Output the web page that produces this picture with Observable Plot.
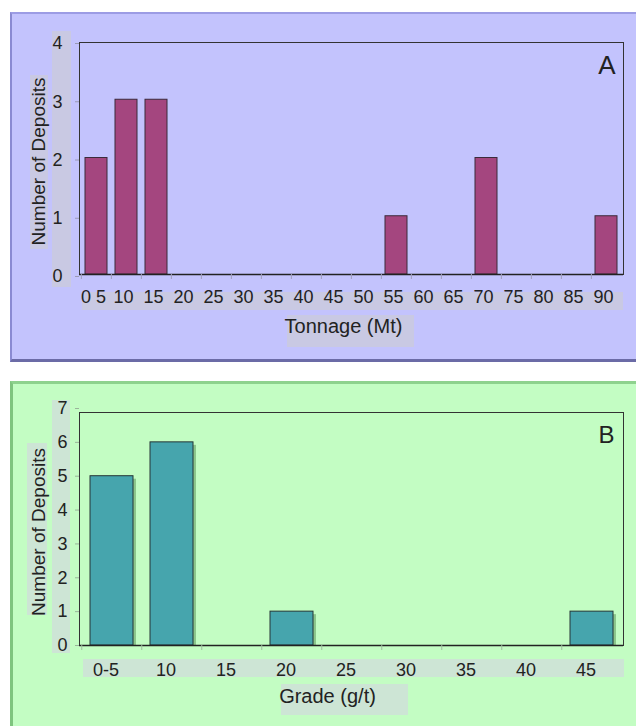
<!DOCTYPE html>
<html><head><meta charset="utf-8">
<script src="https://cdn.jsdelivr.net/npm/d3@7"></script>
<script src="https://cdn.jsdelivr.net/npm/@observablehq/plot@0.6"></script>
<style>
html,body{margin:0;padding:0;background:#fff;}
#page{position:relative;width:636px;height:726px;overflow:hidden;font-family:"Liberation Sans",Arial,sans-serif;}
.panel{position:absolute;box-sizing:border-box;}
#panelA{left:10px;top:12px;width:640px;height:350px;background:#c3c3fd;border-top:2px solid #9c9ce4;border-left:2px solid #8a8ad2;border-bottom:3px solid #6b6ba6;}
#panelB{left:10px;top:381px;width:640px;height:360px;background:#c3fdc3;border-top:3px solid #8ed28e;border-left:3px solid #7fc47f;}
.box{position:absolute;}
.boxA{background:#c9c9e3;}
.boxB{background:#cde5d5;}
</style></head>
<body><div id="page">
<div id="panelA" class="panel"></div>
<div id="panelB" class="panel"></div>
<div class="box boxA" style="left:52px;top:31px;width:19px;height:256px"></div>
<div class="box boxA" style="left:30px;top:75px;width:18px;height:174px"></div>
<div class="box boxA" style="left:82px;top:292px;width:541px;height:18px"></div>
<div class="box boxA" style="left:287px;top:315px;width:127px;height:32px"></div>
<div class="box boxB" style="left:52px;top:400px;width:18px;height:253px"></div>
<div class="box boxB" style="left:27px;top:443px;width:20px;height:172px"></div>
<div class="box boxB" style="left:83px;top:659px;width:541px;height:18px"></div>
<div class="box boxB" style="left:281px;top:684px;width:127px;height:31px"></div>
</div>
<script>
const tonnageLabels = ["0 5","10","15","20","25","30","35","40","45","50","55","60","65","70","75","80","85","90"];
const tonnageCounts = [2,3,3,0,0,0,0,0,0,0,1,0,0,2,0,0,0,1];
const gradeLabels = ["0-5","10","15","20","25","30","35","40","45"];
const gradeCounts = [5,6,0,1,0,0,0,0,1];
const yTicksA = [0,1,2,3,4];
const yTicksB = [0,1,2,3,4,5,6,7];

const tonnage = tonnageLabels.map((label,i)=>({label, count: tonnageCounts[i]}));
const grade = gradeLabels.map((label,i)=>({label, count: gradeCounts[i]}));

const W = 636;
const font = '"Liberation Sans", Arial, sans-serif';
const baseStyle = {background:"transparent", fontFamily: font, fontSize:"18px", color:"#222", overflow:"visible"};
const fmt = d => String(d);

const stepA = (W - 79 - 13) / tonnageLabels.length;
const plotA = Plot.plot({
  width: W, height: 362,
  marginLeft: 79, marginRight: 13, marginTop: 42, marginBottom: 88,
  style: baseStyle,
  x: {type:"band", domain: tonnageLabels, paddingInner:0.27, paddingOuter:0.135, label:null},
  y: {domain:[0,4], range:[274,41], label:null},
  marks: [
    Plot.barY(tonnage.filter(d=>d.count>0), {x:"label", y:"count", fill:"#a4467f", stroke:"#3b2b3b", strokeWidth:1}),
    Plot.frame({stroke:"#333"}),
    Plot.ruleY([0], {stroke:"#222", strokeWidth:1.6}),
    Plot.axisY(yTicksA, {label:null, tickFormat:fmt, tickSize:4, tickPadding:13, stroke:"#9a9ab4", fill:"#222", dy:2, fontSize:18}),
    Plot.axisX({label:null, tickSize:0, tickPadding:16, fill:"#222", dx:-3, fontSize:18}),
    Plot.axisX({label:null, tickSize:5, tickFormat:()=>"", stroke:"#a0a0bc", dx:-stepA/2}),
    Plot.text(["Tonnage (Mt)"], {frameAnchor:"bottom", lineAnchor:"top", dy:44, dx:-8, fontSize:20, fill:"#222"}),
    Plot.text(["Number of Deposits"], {frameAnchor:"left", textAnchor:"middle", rotate:-90, dx:-41, dy:3, fontSize:19, fill:"#222"}),
    Plot.text(["A"], {frameAnchor:"top-right", textAnchor:"end", lineAnchor:"top", dx:-8, dy:13, fontSize:26, fill:"#222"})
  ]
});

const stepB = (W - 79 - 13) / gradeLabels.length;
const plotB = Plot.plot({
  width: W, height: 356,
  marginLeft: 79, marginRight: 13, marginTop: 42, marginBottom: 81,
  style: baseStyle,
  x: {type:"band", domain: gradeLabels, paddingInner:0.29, paddingOuter:0.145, label:null},
  y: {domain:[0,7], range:[275,38], label:null},
  marks: [
    Plot.barY(grade.filter(d=>d.count>0), {x:"label", y:"count", fill:"#8cc68c", dx:3, insetTop:3}),
    Plot.barY(grade.filter(d=>d.count>0), {x:"label", y:"count", fill:"#46a5ad", stroke:"#243536", strokeWidth:1}),
    Plot.frame({stroke:"#333"}),
    Plot.ruleY([0], {stroke:"#222", strokeWidth:1.4}),
    Plot.axisY(yTicksB, {label:null, tickFormat:fmt, tickSize:4, tickPadding:8, stroke:"#9ab49a", fill:"#222", fontSize:18}),
    Plot.axisX({label:null, tickSize:0, tickPadding:18, fill:"#222", dx:-6, fontSize:18}),
    Plot.axisX({label:null, tickSize:5, tickFormat:()=>"", stroke:"#a0bca0", dx:-stepB/2}),
    Plot.text(["Grade (g/t)"], {frameAnchor:"bottom", lineAnchor:"top", dy:43, dx:-24, fontSize:20, fill:"#222"}),
    Plot.text(["Number of Deposits"], {frameAnchor:"left", textAnchor:"middle", rotate:-90, dx:-41, dy:3, fontSize:19, fill:"#222"}),
    Plot.text(["B"], {frameAnchor:"top-right", textAnchor:"end", lineAnchor:"top", dx:-9, dy:13, fontSize:24, fill:"#222"})
  ]
});

const page = document.getElementById("page");
for (const [svg, top] of [[plotA, 0], [plotB, 370]]) {
  svg.style.position = "absolute";
  svg.style.left = "0px";
  svg.style.top = top + "px";
  svg.style.background = "transparent";
  page.appendChild(svg);
}
</script>
</body></html>
